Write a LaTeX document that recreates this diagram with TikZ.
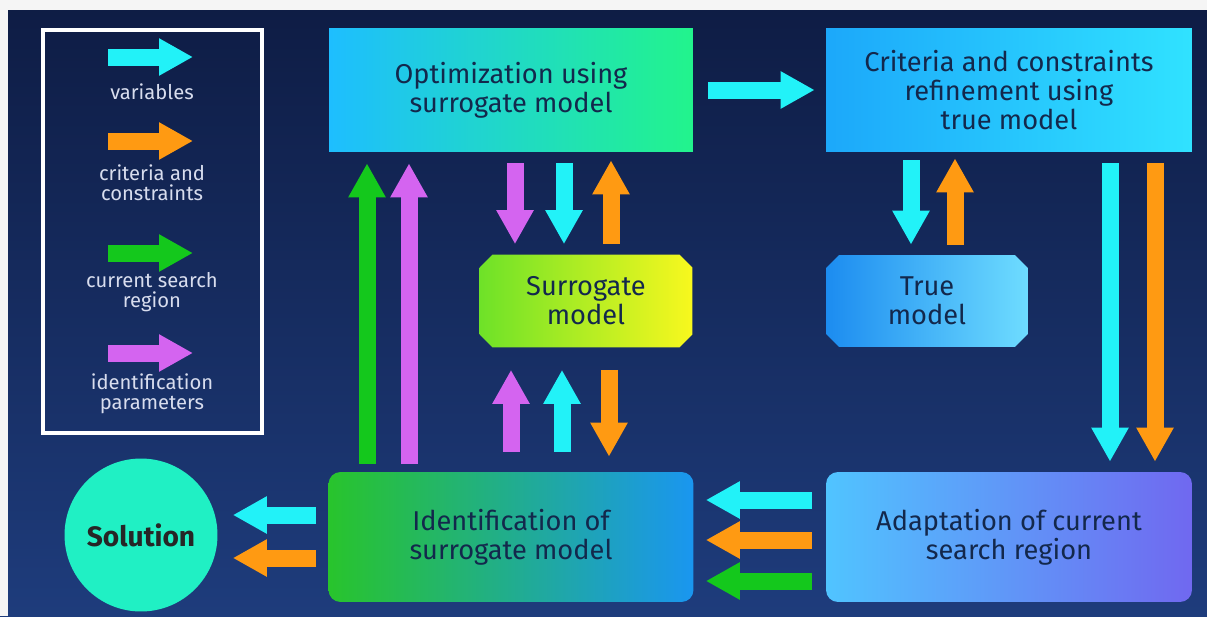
\documentclass[tikz,border=0pt]{standalone}
\usepackage{fontspec}
\setmainfont{Fira Sans}
\usetikzlibrary{arrows.meta,%
                shapes.misc,%
                calc}

\definecolor{varcyan}{HTML}{22F2F8}
\definecolor{critorange}{HTML}{FF9A12}
\definecolor{regiongreen}{HTML}{14C81C}
\definecolor{parviolet}{HTML}{D464F0}
\definecolor{boxtext}{HTML}{13284C}
\definecolor{legtext}{HTML}{D8DDEE}

\begin{document}
\begin{tikzpicture}[x=0.02cm, y=-0.02cm]
    \tikzstyle{BoxStyle}=[rectangle, inner sep=0pt, align=center, text=boxtext,
                          font=\fontsize{15.5}{16.5}\selectfont]
    \tikzstyle{ModelStyle}=[BoxStyle, chamfered rectangle, chamfered rectangle xsep=0.13cm,
                            chamfered rectangle ysep=0.13cm]
    \tikzstyle{LegendStyle}=[text=legtext, align=center, font=\fontsize{11.5}{11.5}\selectfont]
    \tikzstyle{Flow}=[line width=0.34cm, -{Triangle[length=0.68cm, width=0.7cm]}]
    \tikzstyle{Var}=[Flow, draw=varcyan]
    \tikzstyle{Crit}=[Flow, draw=critorange]
    \tikzstyle{Region}=[Flow, draw=regiongreen]
    \tikzstyle{Param}=[Flow, draw=parviolet]

    \fill[top color={rgb,255:red,14;green,28;blue,68}, bottom color={rgb,255:red,30;green,60;blue,124}]
        (0,0) rectangle (1207,616);
    \fill[gray!8] (0,0) rectangle (1207,10);
    \fill[gray!8] (0,0) rectangle (8,616);

    \draw[white, line width=2pt] (43,30) rectangle (262,433);
    \draw[Var] (108,57) -- (193,57);
    \node[LegendStyle] (lvar) at (152,92) {variables};
    \draw[Crit] (108,141) -- (193,141);
    \node[LegendStyle] (lcrit) at (152,183) {criteria and\\constraints};
    \draw[Region] (108,253) -- (193,253);
    \node[LegendStyle] (lreg) at (152,292) {current search\\region};
    \draw[Param] (108,353) -- (193,353);
    \node[LegendStyle] (lpar) at (152,394) {identification\\parameters};

    \node[BoxStyle, minimum width=7.28cm, minimum height=2.48cm,
          left color={rgb,255:red,30;green,190;blue,255}, right color={rgb,255:red,34;green,244;blue,140}]
          (opt) at (511,90) {Optimization using\\surrogate model};
    \node[BoxStyle, minimum width=7.32cm, minimum height=2.48cm,
          left color={rgb,255:red,28;green,168;blue,250}, right color={rgb,255:red,48;green,226;blue,255}]
          (crit) at (1009,90) {Criteria and constraints\\refinement using\\true model};
    \node[ModelStyle, minimum width=4.26cm, minimum height=1.86cm,
          left color={rgb,255:red,110;green,226;blue,40}, right color={rgb,255:red,248;green,248;blue,30}]
          (surr) at (586,301) {Surrogate\\model};
    \node[ModelStyle, minimum width=4.04cm, minimum height=1.84cm,
          left color={rgb,255:red,28;green,140;blue,240}, right color={rgb,255:red,110;green,220;blue,255}]
          (true) at (927,301) {True\\model};
    \node[BoxStyle, rounded corners=0.24cm, minimum width=7.3cm, minimum height=2.6cm,
          left color={rgb,255:red,40;green,196;blue,44}, right color={rgb,255:red,26;green,150;blue,240}]
          (ident) at (511,537) {Identification of\\surrogate model};
    \node[BoxStyle, rounded corners=0.24cm, minimum width=7.32cm, minimum height=2.6cm,
          left color={rgb,255:red,80;green,196;blue,255}, right color={rgb,255:red,112;green,104;blue,240}]
          (adapt) at (1009,537) {Adaptation of current\\search region};
    \node[circle, inner sep=0pt, minimum size=3.06cm, fill={rgb,255:red,32;green,240;blue,196},
          font=\fontsize{16}{16}\selectfont\bfseries, text=black!85]
          (sol) at (141,535) {Solution};

    \draw[Var, shorten <=0.3cm, shorten >=0.22cm] (opt.east) -- (crit.west);

    \draw[Param, shorten <=0.22cm, shorten >=0.2cm] ($(opt.south)+(4,0)$) -- ($(surr.north)+(-71,0)$);
    \draw[Var, shorten <=0.22cm, shorten >=0.2cm] ($(opt.south)+(53,0)$) -- ($(surr.north)+(-22,0)$);
    \draw[Crit, shorten <=0.2cm, shorten >=0.16cm] ($(surr.north)+(25,0)$) -- ($(opt.south)+(100,0)$);

    \draw[Param, shorten <=0.4cm, shorten >=0.44cm] ($(ident.north)+(0,0)$) -- ($(surr.south)+(-75,0)$);
    \draw[Var, shorten <=0.4cm, shorten >=0.44cm] ($(ident.north)+(51,0)$) -- ($(surr.south)+(-24,0)$);
    \draw[Crit, shorten <=0.44cm, shorten >=0.3cm] ($(surr.south)+(23,0)$) -- ($(ident.north)+(98,0)$);

    \draw[Region, shorten <=0.16cm, shorten >=0.22cm] ($(ident.north)+(-144,0)$) -- ($(opt.south)+(-144,0)$);
    \draw[Param, shorten <=0.16cm, shorten >=0.22cm] ($(ident.north)+(-102,0)$) -- ($(opt.south)+(-102,0)$);

    \draw[Var, shorten <=0.16cm, shorten >=0.2cm] ($(crit.south)+(-98,0)$) -- ($(true.north)+(-16,0)$);
    \draw[Crit, shorten <=0.2cm, shorten >=0.12cm] ($(true.north)+(28,0)$) -- ($(crit.south)+(-54,0)$);

    \draw[Var, shorten <=0.22cm, shorten >=0.2cm] ($(crit.south)+(101,0)$) -- ($(adapt.north)+(101,0)$);
    \draw[Crit, shorten <=0.22cm, shorten >=0.2cm] ($(crit.south)+(146,0)$) -- ($(adapt.north)+(146,0)$);

    \draw[Var, shorten <=0.28cm, shorten >=0.24cm] ($(adapt.west)+(0,-37)$) -- ($(ident.east)+(0,-37)$);
    \draw[Crit, shorten <=0.28cm, shorten >=0.24cm] ($(adapt.west)+(0,3)$) -- ($(ident.east)+(0,3)$);
    \draw[Region, shorten <=0.28cm, shorten >=0.24cm] ($(adapt.west)+(0,44)$) -- ($(ident.east)+(0,44)$);

    \draw[Var, shorten <=0.24cm, shorten >=0.3cm] ($(ident.west)+(0,-22)$) -- ($(sol.east)+(0,-20)$);
    \draw[Crit, shorten <=0.24cm, shorten >=0.3cm] ($(ident.west)+(0,21)$) -- ($(sol.east)+(0,23)$);
\end{tikzpicture}
\end{document}
